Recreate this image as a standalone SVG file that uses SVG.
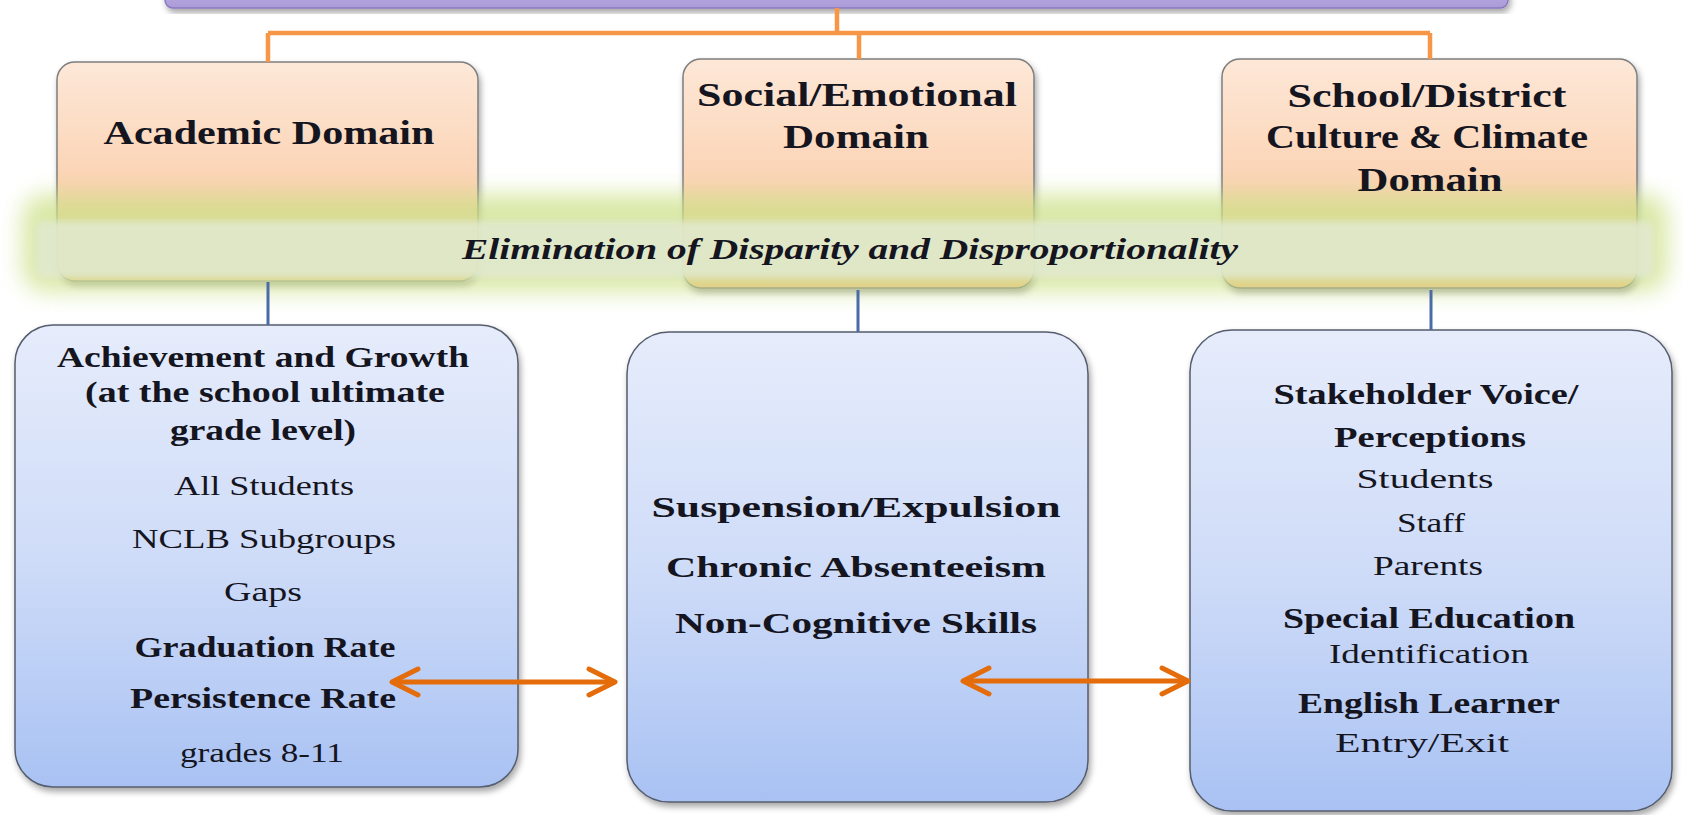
<svg xmlns="http://www.w3.org/2000/svg" width="1683" height="815" viewBox="0 0 1683 815">
<defs>
  <linearGradient id="peach" x1="0" y1="0" x2="0" y2="1">
    <stop offset="0" stop-color="#fde8d8"/>
    <stop offset="0.6" stop-color="#fbd1b0"/>
    <stop offset="1" stop-color="#f8bf8c"/>
  </linearGradient>
  <linearGradient id="blue" x1="0" y1="0" x2="0" y2="1">
    <stop offset="0" stop-color="#e6ecfb"/>
    <stop offset="0.5" stop-color="#cfdcf8"/>
    <stop offset="1" stop-color="#a9c2f3"/>
  </linearGradient>
  <linearGradient id="purple" x1="0" y1="0" x2="0" y2="1">
    <stop offset="0" stop-color="#c7bbe8"/>
    <stop offset="1" stop-color="#ab9bd9"/>
  </linearGradient>
  <filter id="shadow" x="-10%" y="-10%" width="125%" height="125%">
    <feDropShadow dx="2" dy="4" stdDeviation="3" flood-color="#000" flood-opacity="0.35"/>
  </filter>
  <filter id="glow" x="-5%" y="-60%" width="110%" height="220%">
    <feGaussianBlur stdDeviation="11"/>
  </filter>
  <filter id="soft" x="-5%" y="-20%" width="110%" height="140%">
    <feGaussianBlur stdDeviation="3"/>
  </filter>
  <marker id="chev" viewBox="0 0 32 32" refX="29" refY="16" markerWidth="32" markerHeight="32" markerUnits="userSpaceOnUse" orient="auto-start-reverse">
    <path d="M3,3 L29,16 L3,29" fill="none" stroke="#e46c0a" stroke-width="5" stroke-linecap="round" stroke-linejoin="round"/>
  </marker>
  <style>
    .peach { fill: url(#peach); stroke: #7d7d7d; stroke-width: 1.5; filter: url(#shadow); }
    .bbox { fill: url(#blue); stroke: #555d6e; stroke-width: 1.5; filter: url(#shadow); }
    .orange { stroke: #f79646; stroke-width: 4.5; fill: none; }
    .bluec { stroke: #4a6aa8; stroke-width: 3; fill: none; }
    .arrow { stroke: #e46c0a; stroke-width: 5; fill: none; }
    text { font-family: "Liberation Serif", "Times New Roman", serif; fill: #15151f; text-anchor: middle; }
    .h { font-size: 34px; font-weight: bold; }
    .b { font-size: 29px; font-weight: bold; }
    .m { font-size: 30px; font-weight: bold; }
    .r { font-size: 28px; }
    .it { font-size: 30px; font-weight: bold; font-style: italic; }
  </style>
</defs>
<rect width="1683" height="815" fill="#ffffff"/>

<g id="top-bar">
  <rect x="165" y="-30" width="1343" height="38" rx="8" fill="url(#purple)" stroke="#8a78c0" stroke-width="1.5" filter="url(#shadow)"/>
</g>

<g id="academic-domain">
  <rect class="peach" x="57" y="62" width="421" height="219" rx="18"/>
</g>
<g id="social-domain">
  <rect class="peach" x="683" y="59" width="351" height="229" rx="18"/>
</g>
<g id="school-domain">
  <rect class="peach" x="1222" y="59" width="415" height="229" rx="18"/>
</g>

<g id="equity-band">
  <rect x="22" y="194" width="1646" height="98" rx="24" fill="#cde18a" opacity="0.75" filter="url(#glow)"/>
  <rect x="36" y="221" width="1618" height="57" rx="8" fill="#e1e9cf" opacity="0.88" filter="url(#soft)"/>
  <text class="it" x="850" y="259" textLength="776" lengthAdjust="spacingAndGlyphs">Elimination of Disparity and Disproportionality</text>
</g>

<g id="academic-domain-label">
  <text class="h" x="269" y="144" textLength="331" lengthAdjust="spacingAndGlyphs">Academic Domain</text>
</g>
<g id="social-domain-label">
  <text class="h" x="857" y="106" textLength="320" lengthAdjust="spacingAndGlyphs">Social/Emotional</text>
  <text class="h" x="856" y="148" textLength="146" lengthAdjust="spacingAndGlyphs">Domain</text>
</g>
<g id="school-domain-label">
  <text class="h" x="1427" y="107" textLength="279" lengthAdjust="spacingAndGlyphs">School/District</text>
  <text class="h" x="1427" y="148" textLength="322" lengthAdjust="spacingAndGlyphs">Culture &amp; Climate</text>
  <text class="h" x="1430" y="191" textLength="145" lengthAdjust="spacingAndGlyphs">Domain</text>
</g>

<g id="academic-measures">
  <rect class="bbox" x="15" y="325" width="503" height="462" rx="38"/>
  <text class="b" x="263" y="367" textLength="412" lengthAdjust="spacingAndGlyphs">Achievement and Growth</text>
  <text class="b" x="265" y="402" textLength="360" lengthAdjust="spacingAndGlyphs">(at the school ultimate</text>
  <text class="b" x="263" y="440" textLength="186" lengthAdjust="spacingAndGlyphs">grade level)</text>
  <text class="r" x="264" y="495" textLength="180" lengthAdjust="spacingAndGlyphs">All Students</text>
  <text class="r" x="264" y="548" textLength="264" lengthAdjust="spacingAndGlyphs">NCLB Subgroups</text>
  <text class="r" x="263" y="601" textLength="78" lengthAdjust="spacingAndGlyphs">Gaps</text>
  <text class="b" x="265" y="657" textLength="261" lengthAdjust="spacingAndGlyphs">Graduation Rate</text>
  <text class="b" x="263" y="708" textLength="266" lengthAdjust="spacingAndGlyphs">Persistence Rate</text>
  <text class="r" x="262" y="762" textLength="164" lengthAdjust="spacingAndGlyphs">grades 8-11</text>
</g>

<g id="social-measures">
  <rect class="bbox" x="627" y="332" width="461" height="470" rx="42"/>
  <text class="m" x="856" y="517" textLength="409" lengthAdjust="spacingAndGlyphs">Suspension/Expulsion</text>
  <text class="m" x="856" y="577" textLength="380" lengthAdjust="spacingAndGlyphs">Chronic Absenteeism</text>
  <text class="m" x="856" y="633" textLength="362" lengthAdjust="spacingAndGlyphs">Non-Cognitive Skills</text>
</g>

<g id="school-measures">
  <rect class="bbox" x="1190" y="330" width="482" height="481" rx="42"/>
  <text class="b" x="1426" y="404" textLength="305" lengthAdjust="spacingAndGlyphs">Stakeholder Voice/</text>
  <text class="b" x="1430" y="447" textLength="192" lengthAdjust="spacingAndGlyphs">Perceptions</text>
  <text class="r" x="1425" y="488" textLength="137" lengthAdjust="spacingAndGlyphs">Students</text>
  <text class="r" x="1431" y="532" textLength="68" lengthAdjust="spacingAndGlyphs">Staff</text>
  <text class="r" x="1428" y="575" textLength="110" lengthAdjust="spacingAndGlyphs">Parents</text>
  <text class="b" x="1429" y="628" textLength="292" lengthAdjust="spacingAndGlyphs">Special Education</text>
  <text class="r" x="1429" y="663" textLength="200" lengthAdjust="spacingAndGlyphs">Identification</text>
  <text class="b" x="1429" y="713" textLength="262" lengthAdjust="spacingAndGlyphs">English Learner</text>
  <text class="r" x="1422" y="752" textLength="174" lengthAdjust="spacingAndGlyphs">Entry/Exit</text>
</g>

<g id="connectors">
  <path class="orange" d="M837,8 V33 M268,33 H1430 M268,33 V62 M859,33 V59 M1430,33 V59"/>
  <path class="bluec" d="M268,282 V325 M858,290 V332 M1431,290 V330"/>
  <line class="arrow" x1="392" y1="682" x2="615" y2="682" marker-start="url(#chev)" marker-end="url(#chev)"/>
  <line class="arrow" x1="963" y1="681" x2="1188" y2="681" marker-start="url(#chev)" marker-end="url(#chev)"/>
</g>
</svg>
